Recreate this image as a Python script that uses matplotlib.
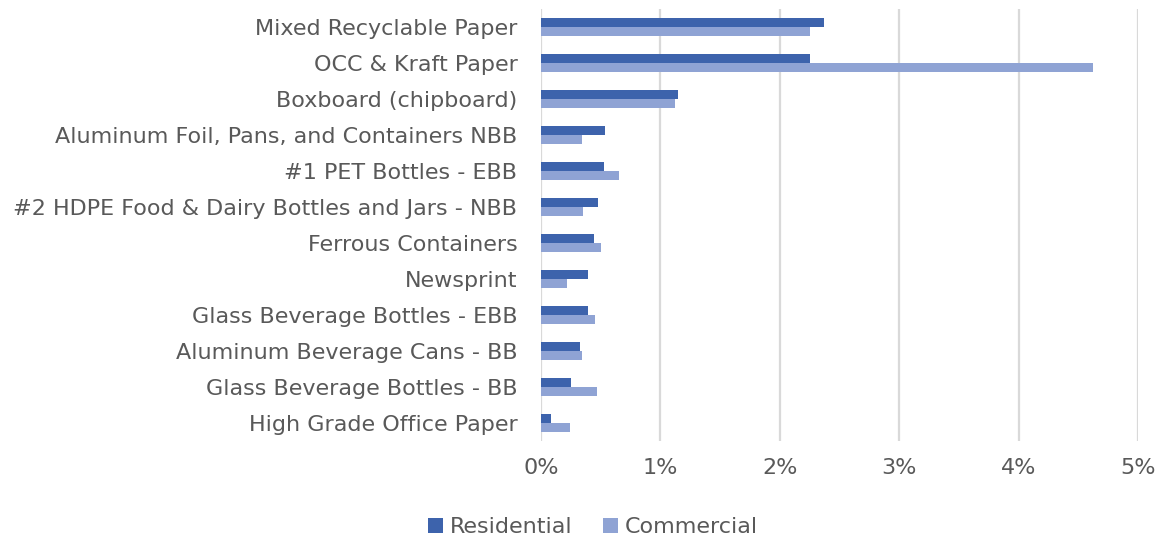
import numpy as np
import matplotlib
matplotlib.use("Agg")
import matplotlib.pyplot as plt
from matplotlib.ticker import FuncFormatter

# Categories, top to bottom as shown
categories = [
    "Mixed Recyclable Paper",
    "OCC & Kraft Paper",
    "Boxboard (chipboard)",
    "Aluminum Foil, Pans, and Containers NBB",
    "#1 PET Bottles - EBB",
    "#2 HDPE Food & Dairy Bottles and Jars - NBB",
    "Ferrous Containers",
    "Newsprint",
    "Glass Beverage Bottles - EBB",
    "Aluminum Beverage Cans - BB",
    "Glass Beverage Bottles - BB",
    "High Grade Office Paper",
]
# percent of stream
residential = [2.37, 2.25, 1.15, 0.54, 0.53, 0.48, 0.44, 0.39, 0.39, 0.33, 0.25, 0.08]
commercial = [2.25, 4.62, 1.12, 0.34, 0.65, 0.35, 0.50, 0.22, 0.45, 0.34, 0.47, 0.24]
xticks = [0, 1, 2, 3, 4, 5]

plt.rcParams['font.family'] = ['DejaVu Sans']
text_col = '#595959'
fs = 16

fig = plt.figure(figsize=(11.57, 5.37), dpi=100)
ax = fig.add_axes([541/1157, 1-441/537, (1138-541)/1157, 432/537])

y = np.arange(len(categories))
h = 0.26
ax.barh(y - h/2, residential, height=h, color='#3D63AC', label='Residential', zorder=3)
ax.barh(y + h/2, commercial, height=h, color='#8FA3D4', label='Commercial', zorder=3)

ax.set_ylim(len(categories) - 0.5, -0.5)
ax.set_xlim(0, 5)
ax.set_yticks(y)
ax.set_yticklabels(categories)
ax.set_xticks(xticks)
ax.xaxis.set_major_formatter(FuncFormatter(lambda v, p: f"{v:.0f}%"))

ax.grid(axis='x', color='#D9D9D9', linewidth=1.6, zorder=0)
for s in ax.spines.values():
    s.set_visible(False)
ax.tick_params(axis='both', length=0, labelsize=fs, labelcolor=text_col)
ax.tick_params(axis='y', pad=17)
ax.tick_params(axis='x', pad=12)

fig.legend(loc='center', bbox_to_anchor=(593/1157, 1-527/537), ncol=2,
           frameon=False, fontsize=fs, labelcolor=text_col,
           handlelength=0.65, handleheight=0.65, handletextpad=0.3, columnspacing=1.4)

fig.savefig('out.png', dpi=100)
